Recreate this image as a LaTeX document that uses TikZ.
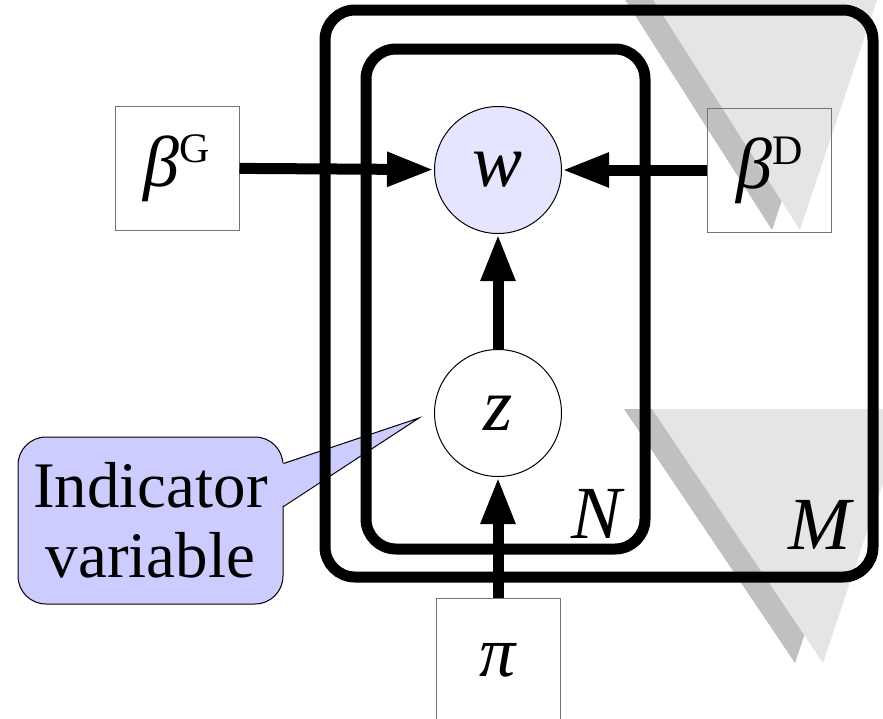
\documentclass[tikz,border=0pt]{standalone}
\usepackage{fontspec}
\setmainfont{Liberation Serif}
\usetikzlibrary{arrows.meta}
\definecolor{wfill}{RGB}{229,229,255}
\definecolor{notefill}{RGB}{204,204,255}
\definecolor{shlight}{RGB}{229,229,229}
\definecolor{shdark}{RGB}{192,192,192}
\begin{document}
\begin{tikzpicture}[x=1pt, y=-1pt, >={Triangle[length=47pt,width=32pt]},
  var/.style={circle, draw, line width=1pt, minimum size=127pt, inner sep=0pt, font=\fontsize{75}{80}\selectfont\itshape},
  hyper/.style={rectangle, draw=black!55, line width=1pt, minimum size=124pt, inner sep=0pt, font=\fontsize{72}{75}\selectfont},
  link/.style={->, line width=11pt},
  plate/.style={line width=11pt, rounded corners=30pt},
  lab/.style={font=\fontsize{75}{80}\selectfont\itshape},
  note/.style={draw, fill=notefill, line width=1pt, rounded corners=28pt, minimum width=265pt, minimum height=167pt, inner sep=0pt, align=center, font=\fontsize{65}{70}\selectfont}]
\useasboundingbox (0,0) rectangle (883,718);
\clip (0,0) rectangle (883,718);
% shadows
\fill[shdark] (610,-24) -- (857,-24) -- (772,230) -- cycle;
\fill[shlight] (638,-24) -- (885,-24) -- (800,230) -- cycle;
\fill[shdark] (624,409) -- (880,409) -- (795,663) -- cycle;
\fill[shlight] (652,409) -- (908,409) -- (823,663) -- cycle;
% nodes
\node[var, fill=wfill] (w) at (498,170) {w};
\node[var] (z) at (498,413) {z};
\node[hyper] (bG) at (177,168) {\textit{β}\raisebox{24pt}{\fontsize{42}{42}\selectfont G}};
\node[hyper] (bD) at (769.5,170) {\textit{β}\raisebox{24pt}{\fontsize{42}{42}\selectfont D}};
\node[hyper] (pi) at (498,660) {\textit{π}};
% callout
\node[note] (note) at (150.5,520.5) {Indicator\\variable};
\coordinate (tip) at ([xshift=-15pt,yshift=-5pt]z.west);
\fill[notefill] ([xshift=-2pt,yshift=57pt]note.east) -- (tip) -- ([xshift=-2pt,yshift=14pt]note.east) -- cycle;
\draw[line width=1pt] ([yshift=57pt]note.east) -- (tip) -- ([yshift=14pt]note.east);
% plates
\draw[plate] (325,10) rectangle (873,577);
\draw[plate] (366,49) rectangle (645,549);
\node[lab] (N) at (597,514) {N};
\node[lab] (M) at (820,525) {M};
% arrows
\draw[link] (bG) -- (w);
\draw[link] (bD) -- (w);
\draw[link] (z) -- (w);
\draw[link] (pi) -- (z);
\end{tikzpicture}
\end{document}
